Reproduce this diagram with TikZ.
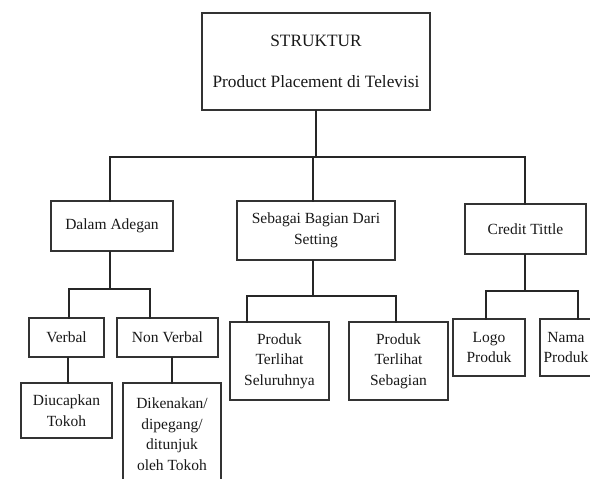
\documentclass[tikz,border=0pt]{standalone}
\usepackage{fontspec}
\setmainfont{Liberation Serif}
\begin{document}
\begin{tikzpicture}[x=1pt,y=-1pt,
  box/.style={draw=black!80,line width=1.8pt,fill=white,inner sep=0pt,
    align=center,text=black!90,font=\fontsize{15.5}{20.5}\selectfont},
  conn/.style={draw=black!85,line width=2.8pt,line cap=rect}]
\useasboundingbox (0,0) rectangle (590,479);
\clip (0,0) rectangle (590,479);
\fill[white] (0,0) rectangle (590,479);

% level 0
\node[box,minimum width=228pt,minimum height=97pt,
  font=\fontsize{17.3}{21}\selectfont] (top) at (316,61.5)
  {STRUKTUR\\[20pt]Product Placement di Televisi};

% level 1
\node[box,minimum width=122pt,minimum height=50pt] (dalam) at (112,226) {Dalam Adegan};
\node[box,minimum width=158pt,minimum height=59pt] (setting) at (316,230.5) {Sebagai Bagian Dari\\Setting};
\node[box,minimum width=121pt,minimum height=50pt] (credit) at (525.5,229) {Credit Tittle};

% level 2
\node[box,minimum width=75pt,minimum height=39pt] (verbal) at (66.5,337.5) {Verbal};
\node[box,minimum width=101pt,minimum height=39pt] (nonverbal) at (167.5,337.5) {Non Verbal};
\node[box,minimum width=99pt,minimum height=78pt] (seluruh) at (279.5,361) {Produk\\Terlihat\\Seluruhnya};
\node[box,minimum width=99pt,minimum height=78pt] (sebagian) at (398.5,361) {Produk\\Terlihat\\Sebagian};
\node[box,minimum width=72pt,minimum height=57pt] (logo) at (489,347.5) {Logo\\Produk};
\node[box,minimum width=52pt,minimum height=57pt] (nama) at (566,347.5) {Nama\\Produk};

% level 3
\node[box,minimum width=91pt,minimum height=55pt] (ucap) at (66.5,410.5) {Diucapkan\\Tokoh};
\node[box,minimum width=98pt,minimum height=102pt] (kena) at (172,434) {Dikenakan/\\dipegang/\\ditunjuk\\oleh Tokoh};

% bus lines
\coordinate (busA) at (313,157);
\coordinate (busB) at (110,289);
\coordinate (busC) at (313,296);
\coordinate (busD) at (525,291);

% connectors
\draw[conn] (top.south) -- (top.south |- busA);
\draw[conn] ([xshift=-2pt]dalam.north) |- (busA) -| ([xshift=-0.5pt]credit.north);
\draw[conn] ([xshift=-3pt]setting.north) -- ([xshift=-3pt]setting.north |- busA);

\draw[conn] ([xshift=-2pt]dalam.south) -- (busB);
\draw[conn] ([xshift=2.5pt]verbal.north) |- (busB) -| ([xshift=-17.5pt]nonverbal.north);
\draw[conn] ([xshift=1.5pt]verbal.south) -- ([xshift=1.5pt]ucap.north);
\draw[conn] (kena.north) -- (kena.north |- nonverbal.south);

\draw[conn] ([xshift=-3pt]setting.south) -- (busC);
\draw[conn] ([xshift=-32.5pt]seluruh.north) |- (busC) -| ([xshift=-2.5pt]sebagian.north);

\draw[conn] ([xshift=-0.5pt]credit.south) -- (busD);
\draw[conn] ([xshift=-3pt]logo.north) |- (busD) -| ([xshift=12pt]nama.north);
\end{tikzpicture}
\end{document}
